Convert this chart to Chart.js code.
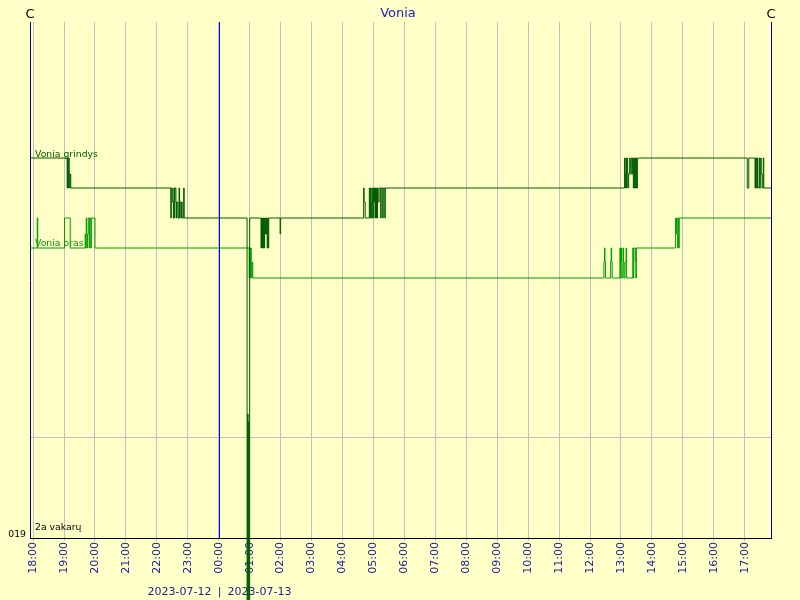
<!DOCTYPE html>
<html>
<head>
<meta charset="utf-8">
<title>Vonia</title>
<script src="https://cdn.jsdelivr.net/npm/chart.js@4"></script>
<style>
  body { margin: 0; background: #ffffc8; }
  canvas { display: block; }
</style>
</head>
<body>
<canvas id="grafikas" width="800" height="600"></canvas>
<script>
// laikas = minutes after 2023-07-12 18:00
const grindysTimes = [-6, 66, 67, 68, 69, 70, 71, 72, 73,
  267, 268, 270, 272, 273, 274, 275, 277, 278, 279, 281, 283, 284, 285, 287, 288, 289, 292, 293,
  415, 416, 417, 418, 419, 420,
  442, 443, 444, 445, 446, 447, 448, 449, 450, 451, 452, 453, 454, 455, 456, 457, 479, 480,
  641, 642, 644, 652, 653, 654, 655, 656, 657, 658, 660, 661, 662, 663, 664, 665, 666, 667, 668, 669, 671, 674, 675, 678, 679, 682, 683,
  1147, 1148, 1149, 1150, 1151, 1152, 1153, 1154, 1155, 1157, 1158, 1160, 1162, 1163, 1164, 1165, 1166, 1167, 1168, 1169, 1170, 1172,
  1385, 1388, 1400, 1401, 1403, 1404, 1405, 1408, 1409, 1411, 1412, 1414, 1416, 1417, 1431];
const grindysValues = [20.9, 20.75, 20.9, 20.75, 20.9, 20.82, 20.75, 20.82, 20.75,
  20.6, 20.75, 20.68, 20.6, 20.75, 20.6, 20.75, 20.68, 20.6, 20.68, 20.6, 20.75, 20.6, 20.68, 20.6, 20.68, 20.6, 20.75, 20.6,
  17, 19.62, 17, 19.58, 17, 20.6,
  20.45, 20.6, 20.45, 20.6, 20.45, 20.6, 20.45, 20.6, 20.52, 20.6, 20.52, 20.6, 20.45, 20.6, 20.45, 20.6, 20.52, 20.6,
  20.75, 20.68, 20.6, 20.75, 20.6, 20.75, 20.6, 20.68, 20.75, 20.6, 20.75, 20.68, 20.75, 20.6, 20.75, 20.6, 20.75, 20.6, 20.75, 20.68, 20.75, 20.6, 20.75, 20.6, 20.75, 20.6, 20.75,
  20.9, 20.82, 20.75, 20.9, 20.75, 20.9, 20.82, 20.75, 20.82, 20.9, 20.82, 20.9, 20.82, 20.9, 20.75, 20.9, 20.75, 20.9, 20.75, 20.9, 20.75, 20.9,
  20.75, 20.9, 20.75, 20.9, 20.75, 20.9, 20.75, 20.9, 20.75, 20.9, 20.82, 20.75, 20.9, 20.75, 20.75];

const orasTimes = [-6, 8, 9, 61, 72, 101, 102, 103, 104, 105, 106, 107, 109, 110, 112, 113, 120,
  419, 420, 421, 422, 423, 424, 425, 426,
  1107, 1108, 1109, 1110, 1120, 1121, 1122, 1123, 1138, 1139, 1140, 1141, 1142, 1144, 1145, 1146, 1148, 1150, 1151,
  1163, 1164, 1165, 1168, 1169, 1170,
  1246, 1247, 1248, 1249, 1250, 1251, 1252, 1253, 1431];
const orasValues = [20.45, 20.6, 20.45, 20.6, 20.45, 20.52, 20.45, 20.6, 20.52, 20.45, 20.52, 20.6, 20.45, 20.6, 20.45, 20.6, 20.45,
  20.3, 20.45, 20.3, 20.45, 20.38, 20.3, 20.38, 20.3,
  20.38, 20.45, 20.38, 20.3, 20.38, 20.45, 20.38, 20.3, 20.45, 20.3, 20.45, 20.38, 20.3, 20.45, 20.38, 20.3, 20.38, 20.45, 20.3,
  20.45, 20.3, 20.45, 20.38, 20.3, 20.45,
  20.6, 20.52, 20.6, 20.52, 20.45, 20.6, 20.45, 20.6, 20.6];

const hourLabels = ["18:00", "19:00", "20:00", "21:00", "22:00", "23:00", "00:00", "01:00",
  "02:00", "03:00", "04:00", "05:00", "06:00", "07:00", "08:00", "09:00", "10:00", "11:00",
  "12:00", "13:00", "14:00", "15:00", "16:00", "17:00"];
const dayLabels = ["2023-07-12", "2023-07-13"];
const seriesNames = ["Vonia grindys", "Vonia oras"];
const gridValues = [19, 19.5];

const navy = "#1c1c96";
const tamsiai = "#005c00";
const zalia = "#009c00";

function toPoints(times, values) {
  return times.map((t, i) => ({ x: t, y: values[i] }));
}

const voniaPlugin = {
  id: "vonia",
  beforeDraw(chart) {
    const ctx = chart.ctx;
    ctx.save();
    ctx.fillStyle = "#ffffc8";
    ctx.fillRect(0, 0, chart.width, chart.height);
    ctx.restore();
  },
  beforeDatasetsDraw(chart) {
    const { ctx, chartArea, scales } = chart;
    const x0 = Math.round(scales.x.getPixelForValue(360)) + 0.5;
    ctx.save();
    // day boundary
    ctx.strokeStyle = "#0000ff";
    ctx.lineWidth = 1;
    ctx.beginPath();
    ctx.moveTo(x0, chartArea.top);
    ctx.lineTo(x0, chartArea.bottom);
    ctx.stroke();
    // right edge
    ctx.strokeStyle = "#000080";
    ctx.beginPath();
    ctx.moveTo(Math.round(chartArea.right) + 0.5, chartArea.top);
    ctx.lineTo(Math.round(chartArea.right) + 0.5, chartArea.bottom);
    ctx.stroke();
    // dates
    ctx.font = '11px "DejaVu Sans"';
    ctx.fillStyle = navy;
    ctx.textBaseline = "alphabetic";
    ctx.textAlign = "right";
    ctx.fillText(dayLabels[0], x0 - 8, 595);
    ctx.textAlign = "center";
    ctx.fillText("|", x0, 595);
    ctx.textAlign = "left";
    ctx.fillText(dayLabels[1], x0 + 8, 595);
    ctx.restore();
  },
  afterDatasetsDraw(chart) {
    const { ctx, chartArea } = chart;
    ctx.save();
    ctx.textBaseline = "alphabetic";
    ctx.font = '13px "DejaVu Sans"';
    ctx.fillStyle = "#2020c0";
    ctx.textAlign = "center";
    ctx.fillText("Vonia", 398, 17);
    ctx.fillStyle = "#000000";
    ctx.fillText("C", chartArea.left, 17.5);
    ctx.fillText("C", chartArea.right, 17.5);

    ctx.font = '9.3px "DejaVu Sans"';
    ctx.textAlign = "left";
    ctx.fillStyle = tamsiai;
    ctx.fillText(seriesNames[0], 35, 157);
    ctx.fillStyle = zalia;
    ctx.fillText(seriesNames[1], 35, 246);
    ctx.fillStyle = "#000000";
    ctx.fillText("2a vakarų", 35, 530);
    ctx.textAlign = "right";
    ctx.fillText("019", 26, 537);
    ctx.restore();
  }
};

new Chart(document.getElementById("grafikas"), {
  type: "line",
  data: {
    datasets: [
      {
        label: seriesNames[0],
        data: toPoints(grindysTimes, grindysValues),
        borderColor: tamsiai,
        borderWidth: 1,
        stepped: true,
        pointRadius: 0,
        clip: false
      },
      {
        label: seriesNames[1],
        data: toPoints(orasTimes, orasValues),
        borderColor: zalia,
        borderWidth: 1,
        stepped: true,
        pointRadius: 0
      }
    ]
  },
  options: {
    responsive: false,
    animation: false,
    devicePixelRatio: 1,
    layout: { padding: { top: 22, right: 29, left: 0, bottom: 0 } },
    plugins: { legend: { display: false }, tooltip: { enabled: false }, title: { display: false } },
    scales: {
      x: {
        type: "linear",
        min: -6,
        max: 1431,
        afterBuildTicks: (scale) => {
          scale.ticks = hourLabels.map((_, i) => ({ value: i * 60 }));
        },
        afterFit: (scale) => { scale.height = 62; },
        grid: { color: "#c0c0c0", tickColor: "#c0c0c0", tickLength: 3 },
        border: { color: "#000000", width: 1 },
        ticks: {
          autoSkip: false,
          minRotation: 90,
          maxRotation: 90,
          padding: 1,
          color: navy,
          font: { family: "DejaVu Sans", size: 11 },
          callback: (value) => hourLabels[Math.round(value / 60)]
        }
      },
      y: {
        type: "linear",
        min: 19,
        max: 21.58,
        afterBuildTicks: (scale) => {
          scale.ticks = gridValues.map((v) => ({ value: v }));
        },
        afterFit: (scale) => { scale.width = 30; },
        grid: { color: "#c0c0c0", drawTicks: false },
        border: { color: "#000080", width: 1 },
        ticks: { display: false }
      }
    }
  },
  plugins: [voniaPlugin]
});
</script>
</body>
</html>
